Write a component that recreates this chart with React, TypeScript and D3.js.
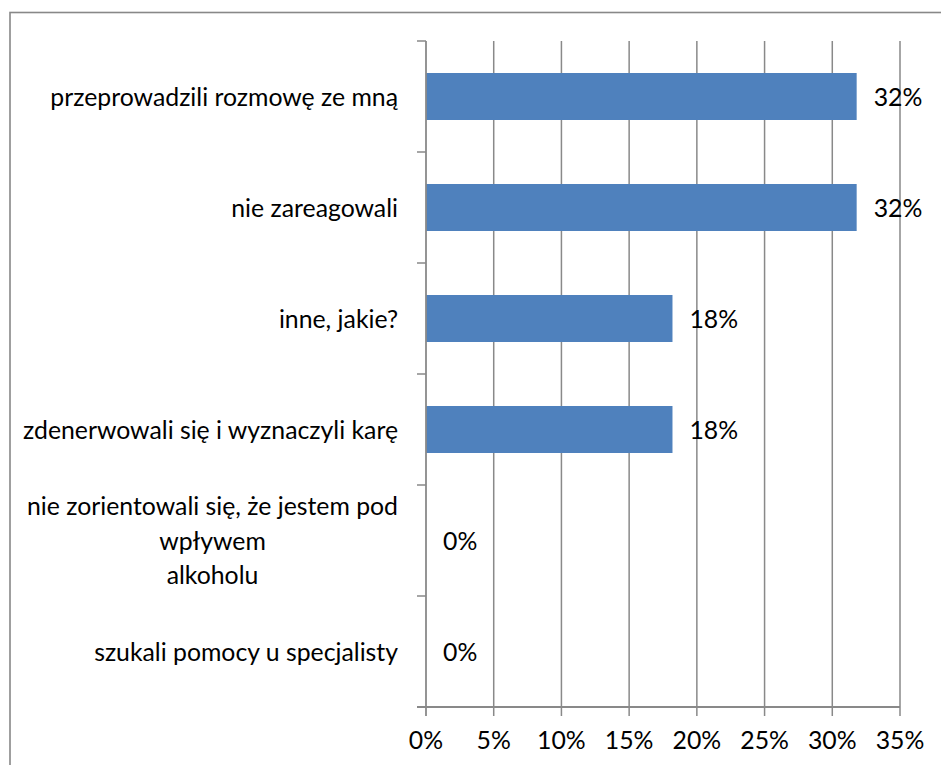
import React, { useEffect, useRef } from 'react';
import * as d3 from 'd3';

const categories = [
  'przeprowadzili rozmowę ze mną',
  'nie zareagowali',
  'inne, jakie?',
  'zdenerwowali się i wyznaczyli karę',
  'nie zorientowali się, że jestem pod\nwpływem\nalkoholu',
  'szukali pomocy u specjalisty',
];
const values = [0.318, 0.318, 0.182, 0.182, 0, 0];
const xTicks = [0, 0.05, 0.1, 0.15, 0.2, 0.25, 0.3, 0.35];

const W = 941;
const H = 765;
const FONT = 'Lato, "Open Sans", sans-serif';
const FS = '24.8px';

const App = () => {
  const ref = useRef<SVGSVGElement | null>(null);

  useEffect(() => {
    if (!ref.current) return;
    const svg = d3.select(ref.current);
    svg.selectAll('*').remove();

    const grid = '#898989';
    const x = d3.scaleLinear().domain([0, 0.35]).range([426, 900]);
    const y = d3.scaleBand<string>().domain(categories).range([41, 707]).padding(0);
    const bw = y.bandwidth();
    const barH = 47;

    // chart frame
    svg.append('rect')
      .attr('x', 10).attr('y', 12.5)
      .attr('width', 1000).attr('height', 1000)
      .attr('fill', '#fff').attr('stroke', '#888').attr('stroke-width', 1.6);

    // vertical gridlines + bottom ticks
    svg.append('g').selectAll('line')
      .data(xTicks.slice(1))
      .enter().append('line')
      .attr('x1', d => x(d)).attr('x2', d => x(d))
      .attr('y1', 41).attr('y2', 716)
      .attr('stroke', grid).attr('stroke-width', 1.5);

    // value axis labels
    svg.append('g').selectAll('text')
      .data(xTicks)
      .enter().append('text')
      .attr('x', d => x(d)).attr('y', 749)
      .attr('text-anchor', 'middle')
      .style('font-family', FONT).style('font-size', FS).attr('fill', '#000')
      .text(d => `${Math.round(d * 100)}%`);

    // bars
    svg.append('g').selectAll('rect')
      .data(categories)
      .enter().append('rect')
      .attr('x', x(0))
      .attr('y', d => (y(d) as number) + (bw - barH) / 2)
      .attr('width', (d, i) => x(values[i]) - x(0))
      .attr('height', barH)
      .attr('fill', '#4F81BD');

    // category axis
    const edges = d3.range(categories.length + 1).map(i => 41 + i * bw);
    svg.append('g').selectAll('line')
      .data(edges)
      .enter().append('line')
      .attr('x1', 417).attr('x2', x(0))
      .attr('y1', d => d).attr('y2', d => d)
      .attr('stroke', grid).attr('stroke-width', 1.5);
    svg.append('line')
      .attr('x1', x(0)).attr('x2', x(0)).attr('y1', 41).attr('y2', 716)
      .attr('stroke', grid).attr('stroke-width', 1.8);
    svg.append('line')
      .attr('x1', 417).attr('x2', x(0.35)).attr('y1', 707).attr('y2', 707)
      .attr('stroke', grid).attr('stroke-width', 1.8);

    // data labels
    svg.append('g').selectAll('text')
      .data(categories)
      .enter().append('text')
      .attr('x', (d, i) => x(values[i]) + 17)
      .attr('y', d => (y(d) as number) + bw / 2 + 9)
      .style('font-family', FONT).style('font-size', FS).attr('fill', '#000')
      .text((d, i) => `${Math.round(values[i] * 100)}%`);

    // category labels
    const labelRight = 398;
    const lineH = 34.5;
    categories.forEach(c => {
      const lines = c.split('\n');
      const cy = (y(c) as number) + bw / 2;
      const g = svg.append('g');
      const texts = lines.map((ln, k) =>
        g.append('text')
          .attr('y', cy + (k - (lines.length - 1) / 2) * lineH + 9)
          .style('font-family', FONT).style('font-size', FS).attr('fill', '#000')
          .text(ln)
      );
      const maxW = d3.max(texts, t => (t.node() as SVGTextElement).getComputedTextLength()) || 0;
      texts.forEach(t => t.attr('x', labelRight - maxW / 2).attr('text-anchor', 'middle'));
    });
  }, []);

  return (
    <svg ref={ref} width={W} height={H}
      style={{ position: 'absolute', left: 0, top: 0, background: '#fff' }} />
  );
};

export default App;
